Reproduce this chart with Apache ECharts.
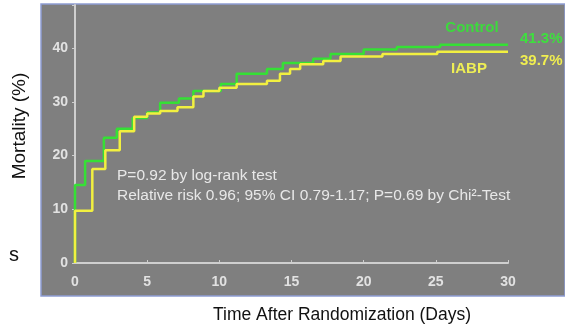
<!DOCTYPE html>
<html>
<head>
<meta charset="utf-8">
<script src="https://cdn.jsdelivr.net/npm/echarts@6/dist/echarts.min.js"></script>
<style>
html, body { margin: 0; padding: 0; background: #fff; }
#main { width: 565px; height: 327px; }
</style>
</head>
<body>
<div id="main"></div>
<script>
// Kaplan-Meier steps (days, mortality %)
var iabpDays = [0, 0, 1.2, 2.1, 3.1, 4.1, 5.0, 5.9, 7.1, 8.2, 8.9, 10.0, 11.2, 13.3, 14.2, 14.9, 15.6, 17.2, 18.4, 21.3, 25.1, 30];
var iabpMort = [0, 9.7, 17.5, 21, 24.5, 27.2, 27.8, 28.3, 29, 31, 32, 32.6, 33.3, 33.9, 35.2, 36.1, 37, 37.6, 38.4, 38.9, 39.3, 39.4];
var ctrlDays = [0, 0, 0.7, 2.0, 2.9, 4.0, 5.0, 5.9, 7.2, 8.2, 10.1, 11.2, 13.3, 14.4, 16.5, 17.7, 20.0, 22.3, 25.3, 30];
var ctrlMort = [0, 14.5, 19, 23.3, 25, 27, 28, 29.8, 30.6, 32, 33.3, 35.2, 36.1, 37.2, 38, 38.9, 39.7, 40.2, 40.6, 40.7];
var xTicks = [0, 5, 10, 15, 20, 25, 30];
var yTicks = [0, 10, 20, 30, 40];
var endLabels = { control: '41.3%', iabp: '39.7%' };

function pairs(xs, ys) {
	var out = [];
	for (var i = 0; i < xs.length; i++) out.push([xs[i], ys[i]]);
	return out;
}

var chart = echarts.init(document.getElementById('main'));
var tickColor = '#e2e2e2';

var option = {
	backgroundColor: '#fff',
	animation: false,
	grid: { left: 75, right: 57, top: 5, bottom: 64 },
	xAxis: {
		type: 'value', min: 0, max: 30, interval: 5,
		axisLine: { show: true, lineStyle: { color: '#cfcfcf', width: 2 } },
		axisTick: { show: true, inside: true, length: 3, lineStyle: { color: '#cfcfcf' } },
		axisLabel: {
			color: tickColor, fontSize: 14, fontFamily: 'Liberation Sans', fontWeight: 'bold', margin: 12,
			formatter: function (v) { return xTicks.indexOf(v) >= 0 ? v : ''; }
		},
		splitLine: { show: false }
	},
	yAxis: {
		type: 'value', min: 0, max: 48, interval: 10,
		axisLine: { show: true, lineStyle: { color: '#cfcfcf', width: 2 } },
		axisTick: { show: true, length: 3, lineStyle: { color: '#cfcfcf' } },
		axisLabel: {
			color: tickColor, fontSize: 14, fontFamily: 'Liberation Sans', fontWeight: 'bold', margin: 7,
			formatter: function (v) { return yTicks.indexOf(v) >= 0 ? v : ''; }
		},
		splitLine: { show: false }
	},
	series: [
		{
			name: 'Control', type: 'line', step: 'end', symbol: 'none', z: 3,
			data: pairs(ctrlDays, ctrlMort),
			lineStyle: { color: '#35e035', width: 2.5 },
			endLabel: { show: true, formatter: endLabels.control, color: '#3ee03e', fontSize: 15, fontWeight: 'bold', fontFamily: 'Liberation Sans', offset: [4, -5] }
		},
		{
			name: 'IABP', type: 'line', step: 'end', symbol: 'none', z: 4,
			data: pairs(iabpDays, iabpMort),
			lineStyle: { color: '#f2f040', width: 2.5 },
			endLabel: { show: true, formatter: endLabels.iabp, color: '#f0ee50', fontSize: 15, fontWeight: 'bold', fontFamily: 'Liberation Sans', offset: [4, 10] }
		}
	],
	graphic: [
		{ type: 'rect', z: -10, shape: { x: 41, y: 4, width: 524, height: 292 }, style: { fill: '#7f7f7f', stroke: '#8e9dd4', lineWidth: 1.5 } },
		{ type: 'text', x: 472, y: 28, style: { text: 'Control', fill: '#3ed83e', font: 'bold 15px Liberation Sans', align: 'center', verticalAlign: 'middle' } },
		{ type: 'text', x: 469, y: 69, style: { text: 'IABP', fill: '#eeee55', font: 'bold 15px Liberation Sans', align: 'center', verticalAlign: 'middle' } },
		{ type: 'text', x: 117, y: 176, style: { text: 'P=0.92 by log-rank test', fill: '#e8e8e8', font: '15.5px Liberation Sans', verticalAlign: 'middle' } },
		{ type: 'text', x: 117, y: 196, style: { text: 'Relative risk 0.96; 95% CI 0.79-1.17; P=0.69 by Chi\u00b2-Test', fill: '#e8e8e8', font: '15.5px Liberation Sans', verticalAlign: 'middle' } },
		{ type: 'text', x: 20, y: 126, rotation: Math.PI / 2, style: { text: 'Mortality (%)', fill: '#111', font: '19px Liberation Sans', align: 'center', verticalAlign: 'middle' } },
		{ type: 'text', x: 213, y: 315, style: { text: 'Time After Randomization (Days)', fill: '#111', font: '17.5px Liberation Sans', verticalAlign: 'middle' } },
		{ type: 'text', x: 9, y: 255, style: { text: 's', fill: '#111', font: '20px Liberation Sans', verticalAlign: 'middle' } }
	]
};
chart.setOption(option);
</script>
</body>
</html>
